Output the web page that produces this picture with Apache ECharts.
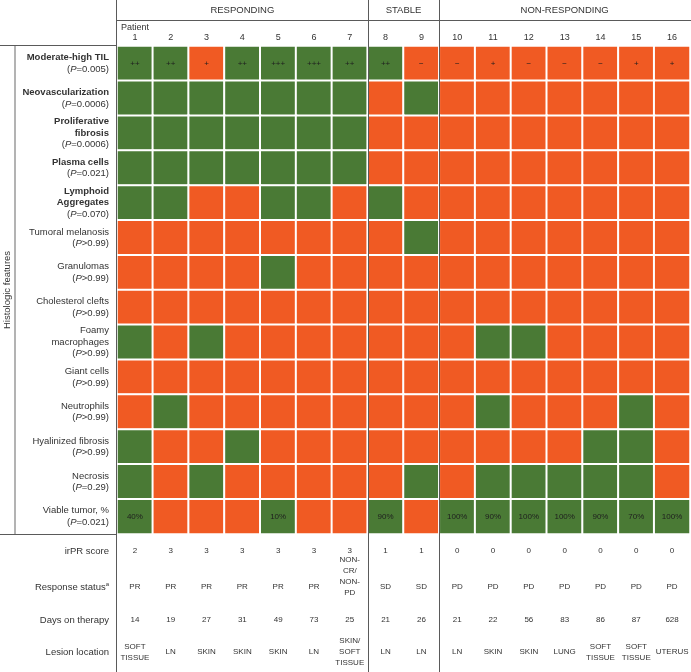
<!DOCTYPE html>
<html><head><meta charset="utf-8">
<script src="https://cdn.jsdelivr.net/npm/echarts@6/dist/echarts.min.js"></script>
<style>html,body{margin:0;padding:0;background:#fff}#c{width:691px;height:672px}</style>
</head><body><div id="c"></div>
<script>
// ---------- data ----------
const patients = ['1','2','3','4','5','6','7','8','9','10','11','12','13','14','15','16'];
const patientGroup = ['RESPONDING','RESPONDING','RESPONDING','RESPONDING','RESPONDING','RESPONDING','RESPONDING',
  'STABLE','STABLE',
  'NON-RESPONDING','NON-RESPONDING','NON-RESPONDING','NON-RESPONDING','NON-RESPONDING','NON-RESPONDING','NON-RESPONDING'];
const features = ['Moderate-high TIL','Neovascularization','Proliferative\nfibrosis','Plasma cells','Lymphoid\nAggregates',
  'Tumoral melanosis','Granulomas','Cholesterol clefts','Foamy\nmacrophages','Giant cells','Neutrophils',
  'Hyalinized fibrosis','Necrosis','Viable tumor, %'];
const featureBold = [true,true,true,true,true,false,false,false,false,false,false,false,false,false];
const featurePValue = ['=0.005','=0.0006','=0.0006','=0.021','=0.070','>0.99','>0.99','>0.99','>0.99','>0.99','>0.99','>0.99','=0.29','=0.021'];
// 1 = present (green), 0 = absent (orange)
const presence = [
  [1,1,0,1,1,1,1, 1,0, 0,0,0,0,0,0,0],
  [1,1,1,1,1,1,1, 0,1, 0,0,0,0,0,0,0],
  [1,1,1,1,1,1,1, 0,0, 0,0,0,0,0,0,0],
  [1,1,1,1,1,1,1, 0,0, 0,0,0,0,0,0,0],
  [1,1,0,0,1,1,0, 1,0, 0,0,0,0,0,0,0],
  [0,0,0,0,0,0,0, 0,1, 0,0,0,0,0,0,0],
  [0,0,0,0,1,0,0, 0,0, 0,0,0,0,0,0,0],
  [0,0,0,0,0,0,0, 0,0, 0,0,0,0,0,0,0],
  [1,0,1,0,0,0,0, 0,0, 0,1,1,0,0,0,0],
  [0,0,0,0,0,0,0, 0,0, 0,0,0,0,0,0,0],
  [0,1,0,0,0,0,0, 0,0, 0,1,0,0,0,1,0],
  [1,0,0,1,0,0,0, 0,0, 0,0,0,0,1,1,0],
  [1,0,1,0,0,0,0, 0,1, 0,1,1,1,1,1,0],
  [1,0,0,0,1,0,0, 1,0, 1,1,1,1,1,1,1]
];
const tilGrade = ['++','++','+','++','+++','+++','++','++','\u2212','\u2212','+','\u2212','\u2212','\u2212','+','+'];
const viableTumor = ['40%','','','','10%','','','90%','','100%','90%','100%','100%','90%','70%','100%'];
const irPRScore = ['2','3','3','3','3','3','3','1','1','0','0','0','0','0','0','0'];
const responseStatus = ['PR','PR','PR','PR','PR','PR','NON-\nCR/\nNON-\nPD','SD','SD','PD','PD','PD','PD','PD','PD','PD'];
const daysOnTherapy = ['14','19','27','31','49','73','25','21','26','21','22','56','83','86','87','628'];
const lesionLocation = ['SOFT\nTISSUE','LN','SKIN','SKIN','SKIN','LN','SKIN/\nSOFT\nTISSUE','LN','LN','LN','SKIN','SKIN','LUNG','SOFT\nTISSUE','SOFT\nTISSUE','UTERUS'];

// ---------- styles ----------
const GREEN = '#4a7a35', ORANGE = '#f05a23', TXT = '#333', LINE = '#5a5a5a';
const FONT = '"Liberation Sans", Arial, Helvetica, sans-serif';
const GL = 117, GR = 1, GT = 46, GB = 138;
const FS = 9.5;

const heatData = [];
presence.forEach((row, r) => row.forEach((v, c) => {
  const lab = r === 0 ? tilGrade[c] : (r === features.length - 1 ? viableTumor[c] : '');
  heatData.push({ value: [c, r, v], label: { formatter: lab } });
}));

function featLabel(value, idx) {
  const st = featureBold[idx] ? 'b' : 'n';
  const lines = features[idx].split('\n').map(l => '{' + st + '|' + l + '}');
  const pv = featurePValue[idx];
  lines.push('{n|(}{i|P}{n|' + pv + ')}');
  return lines.join('\n');
}

function tableAxis(data, name, offset, nameRich) {
  return {
    type: 'category', gridIndex: 0, position: 'bottom', offset: offset, data: data,
    axisLine: { show: false }, axisTick: { show: false }, splitLine: { show: false },
    axisLabel: { margin: 0, verticalAlign: 'middle', fontSize: 8, lineHeight: 11, color: TXT, fontFamily: FONT, interval: 0,
      hideOverlap: false,
      formatter: v => (v.split('\n').length === 4 ? v + '\n\n' : v) },
    name: name, nameLocation: 'start', nameGap: 8,
    nameTextStyle: { fontSize: FS, color: TXT, fontFamily: FONT, rich: nameRich || {} }
  };
}

const chart = echarts.init(document.getElementById('c'), null, { renderer: 'canvas' });
const option = {
  animation: false,
  backgroundColor: '#fff',
  textStyle: { fontFamily: FONT },
  grid: { left: GL, right: GR, top: GT, bottom: GB, containLabel: false, outerBoundsMode: 'none' },
  xAxis: [
    { type: 'category', position: 'top', data: patients,
      axisLine: { show: false }, axisTick: { show: false }, splitLine: { show: false },
      axisLabel: { margin: 3, fontSize: 9, lineHeight: 10, color: TXT, fontFamily: FONT, interval: 0,
        formatter: (v, i) => i === 0 ? 'Patient\n' + v : v } },
    tableAxis(irPRScore, 'irPR score', 17),
    tableAxis(responseStatus, '{n|Response status}{s|a}', 53, {
      n: { fontSize: FS, color: TXT, fontFamily: FONT },
      s: { fontSize: 6, color: TXT, fontFamily: FONT, padding: [0, 0, 5, 0] } }),
    tableAxis(daysOnTherapy, 'Days on therapy', 86),
    tableAxis(lesionLocation, 'Lesion location', 118)
  ],
  yAxis: {
    type: 'category', inverse: true, data: features.map((f, i) => String(i)),
    axisLine: { show: false }, axisTick: { show: false }, splitLine: { show: false },
    axisLabel: { margin: 8, interval: 0, formatter: featLabel,
      rich: {
        b: { fontSize: FS, fontWeight: 'bold', color: TXT, lineHeight: 11.5, align: 'right', fontFamily: FONT },
        n: { fontSize: FS, color: TXT, lineHeight: 11.5, align: 'right', fontFamily: FONT },
        i: { fontSize: FS, fontStyle: 'italic', color: TXT, lineHeight: 11.5, align: 'right', fontFamily: FONT }
      } }
  },
  visualMap: { type: 'piecewise', show: false, dimension: 2, seriesIndex: 0,
    pieces: [{ value: 0, color: ORANGE }, { value: 1, color: GREEN }] },
  series: [{
    type: 'heatmap', xAxisIndex: 0, yAxisIndex: 0, data: heatData,
    itemStyle: { borderColor: '#ffffff', borderWidth: 2 },
    label: { show: true, fontSize: 8, color: '#1e1e1e', fontFamily: FONT },
    emphasis: { disabled: true }
  }]
};
chart.setOption(option);

// ---------- frame lines and group headers, positioned via the axis scale ----------
const px = i => chart.convertToPixel({ xAxisIndex: 0 }, i);
const py = i => chart.convertToPixel({ yAxisIndex: 0 }, i);
const bw = px(1) - px(0);
const bh = py(1) - py(0);
const H = 672, W = 691;
const gTop = py(0) - bh / 2, gBottom = py(features.length - 1) + bh / 2, gLeft = px(0) - bw / 2;
const graphics = [];
const groups = [];
patientGroup.forEach((g, i) => {
  if (!groups.length || groups[groups.length - 1].name !== g) groups.push({ name: g, a: i, b: i });
  else groups[groups.length - 1].b = i;
});
const lineStyle = { stroke: LINE, lineWidth: 1 };
graphics.push({ type: 'line', shape: { x1: Math.round(gLeft) - 0.5, y1: 0, x2: Math.round(gLeft) - 0.5, y2: H }, style: lineStyle, z: 100 });
groups.forEach((g, k) => {
  const x0 = px(g.a) - bw / 2, x1 = px(g.b) + bw / 2;
  graphics.push({ type: 'text', x: (x0 + x1) / 2, y: 10,
    style: { text: g.name, fill: TXT, font: '9.5px ' + FONT, textAlign: 'center', textVerticalAlign: 'middle' }, z: 100 });
  if (k > 0) {
    const xs = Math.round(x0) + 0.5;
    graphics.push({ type: 'line', shape: { x1: xs, y1: 0, x2: xs, y2: H }, style: lineStyle, z: 100 });
  }
});
graphics.push({ type: 'line', shape: { x1: gLeft, y1: 20.5, x2: W, y2: 20.5 }, style: lineStyle, z: 100 });
graphics.push({ type: 'line', shape: { x1: 0, y1: Math.round(gTop) - 0.5, x2: gLeft, y2: Math.round(gTop) - 0.5 }, style: lineStyle, z: 100 });
graphics.push({ type: 'line', shape: { x1: 0, y1: Math.round(gBottom) + 0.5, x2: gLeft, y2: Math.round(gBottom) + 0.5 }, style: lineStyle, z: 100 });
graphics.push({ type: 'line', shape: { x1: 15, y1: gTop, x2: 15, y2: gBottom }, style: { stroke: '#b3b3b3', lineWidth: 2 }, z: 100 });
graphics.push({ type: 'text', x: 7, y: (gTop + gBottom) / 2, rotation: Math.PI / 2,
  style: { text: 'Histologic features', fill: TXT, font: FS + 'px ' + FONT, textAlign: 'center', textVerticalAlign: 'middle' }, z: 100 });
chart.setOption({ graphic: graphics });
</script>
</body></html>
